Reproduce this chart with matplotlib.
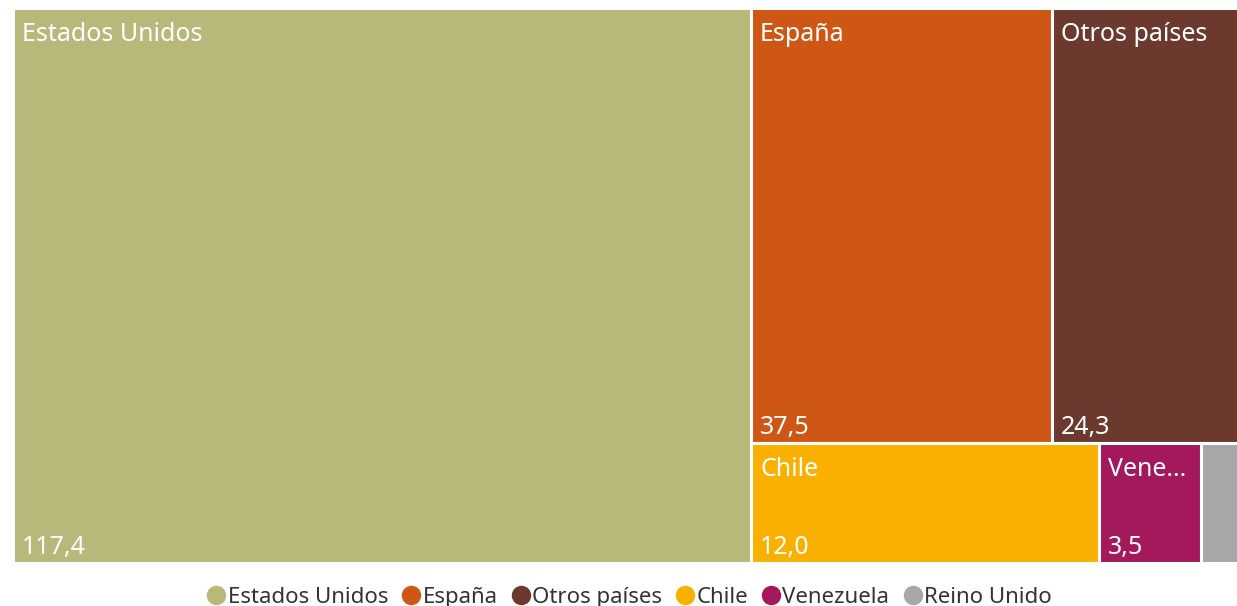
import matplotlib.pyplot as plt
from matplotlib.patches import Rectangle
from matplotlib.lines import Line2D

plt.rcParams['font.family'] = ['Noto Sans', 'DejaVu Sans']

# Data
paises = ["Estados Unidos", "España", "Otros países", "Chile", "Venezuela", "Reino Unido"]
valores = [117.4, 37.5, 24.3, 12.0, 3.5, 1.6]
etiquetas = ["Estados Unidos", "España", "Otros países", "Chile", "Vene...", ""]
colores = ["#B8B87A", "#CF5715", "#6B392D", "#F9B000", "#A3195B", "#A7A7A9"]

# Treemap layout: first item takes a full-height column, the rest are stacked in rows
filas = [[1, 2], [3, 4, 5]]

W, H = 1234.0, 555.0
total = sum(valores)
rects = {}
w0 = W * valores[0] / total
rects[0] = (0.0, 0.0, w0, H)
resto = total - valores[0]
y = 0.0
for fila in filas:
    s = sum(valores[i] for i in fila)
    h = H * s / resto
    x = w0
    for i in fila:
        w = (W - w0) * valores[i] / s
        rects[i] = (x, y, w, h)
        x += w
    y += h

fig = plt.figure(figsize=(12.37, 6.06), dpi=100)
ax = fig.add_axes([13 / 1237, 43 / 606, W / 1237, H / 606])
ax.set_xlim(0, W)
ax.set_ylim(H, 0)
ax.axis("off")

for i, (x, y, w, h) in rects.items():
    ax.add_patch(Rectangle((x, y), w, h, facecolor=colores[i],
                           edgecolor="white", linewidth=2.2, clip_on=False))
    if etiquetas[i]:
        ax.text(x + 9, y + 14, etiquetas[i], color="white", fontsize=18,
                ha="left", va="top")
        ax.text(x + 9, y + h - 3, f"{valores[i]:.1f}".replace(".", ","),
                color="white", fontsize=18, ha="left", va="bottom")

handles = [Line2D([], [], marker="o", linestyle="", markersize=13,
                  markerfacecolor=c, markeredgecolor=c) for c in colores]
fig.legend(handles, paises, loc="center", bbox_to_anchor=(0.508, 0.014),
           ncol=6, frameon=False, fontsize=16, handletextpad=0.0,
           columnspacing=0.55, handlelength=1.0, labelcolor="#333333")

fig.savefig("out.png", dpi=100)
